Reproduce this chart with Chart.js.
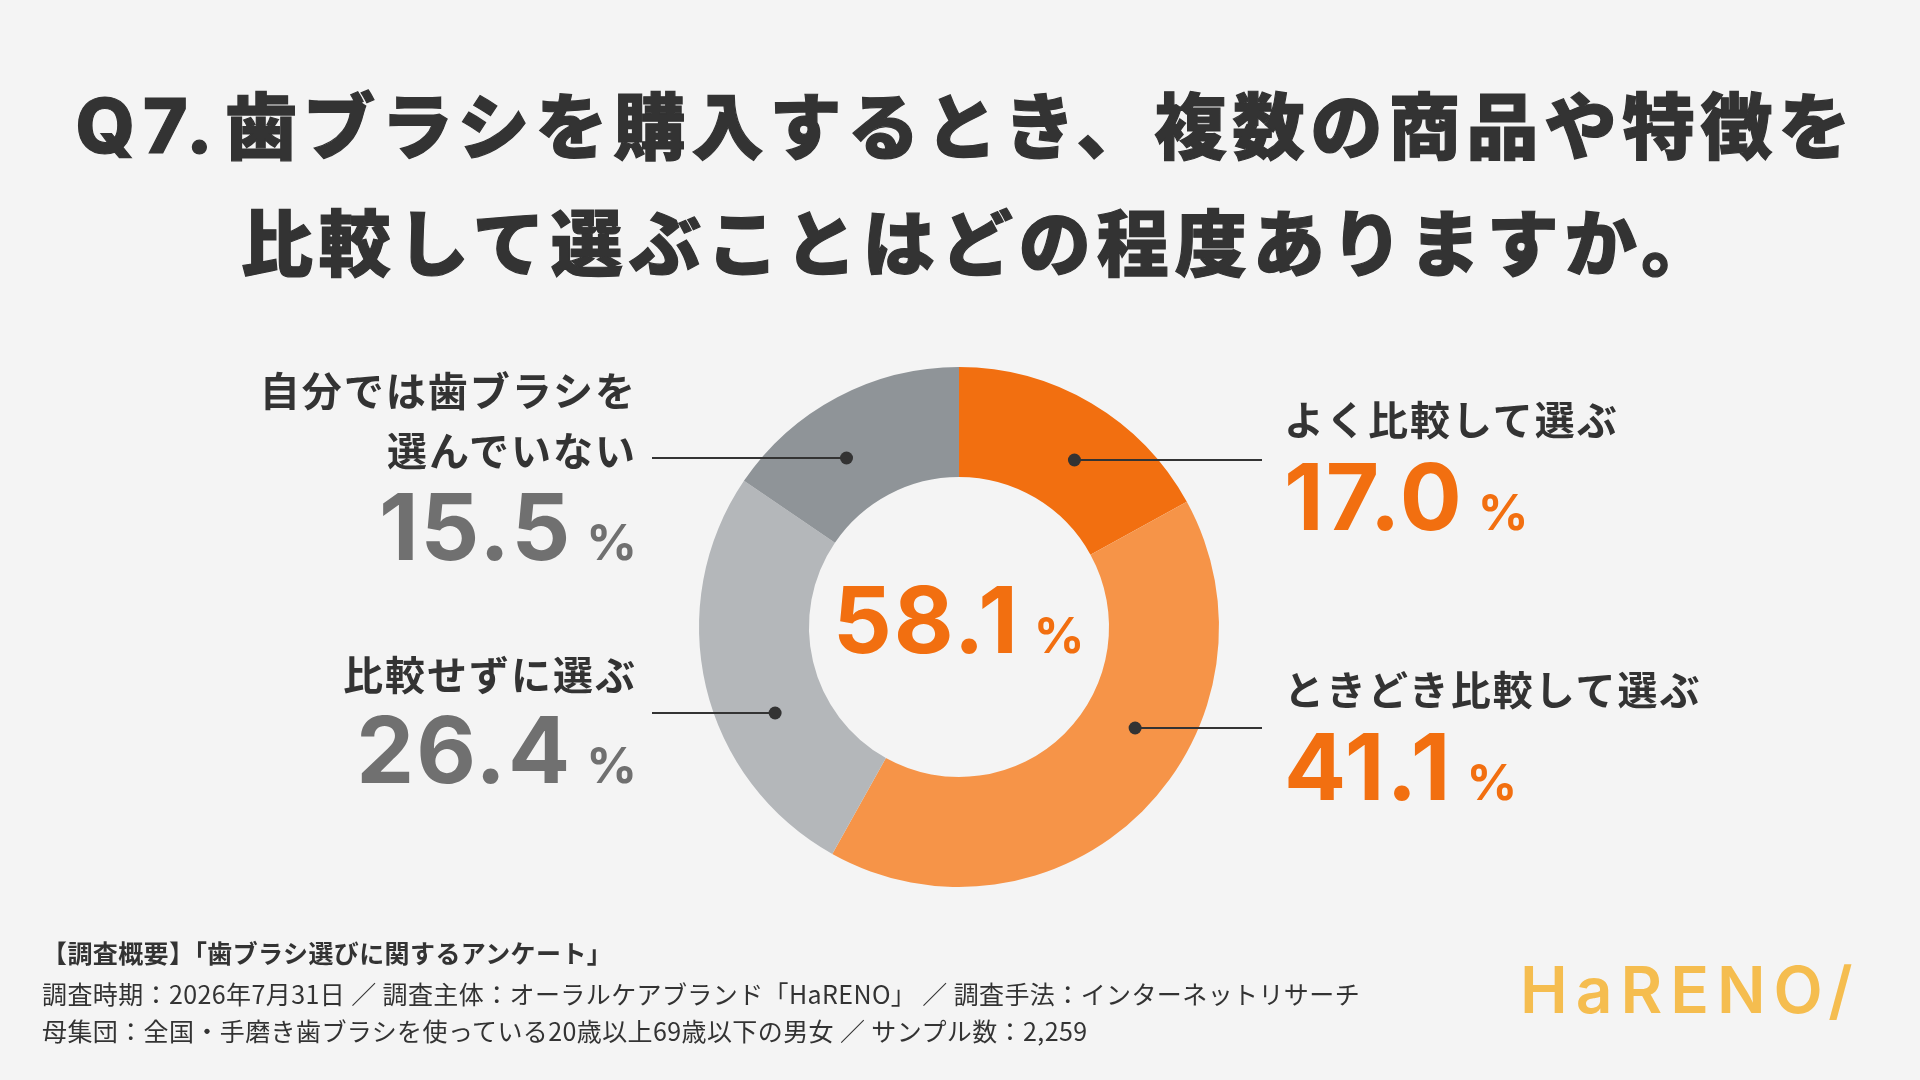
<!DOCTYPE html>
<html lang="ja">
<head>
<meta charset="utf-8">
<script src="https://cdn.jsdelivr.net/npm/chart.js@4.4.1/dist/chart.umd.min.js"></script>
<style>
  body { margin: 0; background: #f4f4f4; }
  #wrap { position: relative; width: 1920px; height: 1080px; overflow: hidden;
          font-family: "Noto Sans CJK JP", "Noto Sans", sans-serif; color: #333; }
  #c { position: absolute; left: 0; top: 0; }
  .abs { position: absolute; line-height: 1; white-space: nowrap; }
  .title { left: 0; width: 1920px; text-align: center; font-size: 72px; font-weight: 900; letter-spacing: 6px;
           -webkit-text-stroke: 1.2px #333; }
  .q { font-family: Inter, sans-serif; font-weight: 800; font-size: 76px; letter-spacing: 8px; margin-right: 4px; }
  .lab { font-size: 40px; font-weight: 700; letter-spacing: 2px; }
  .num { display: flex; align-items: baseline; font-family: Inter, sans-serif; font-weight: 700; }
  .num .v { font-size: 92px; letter-spacing: 2px; }
  .num .p { font-size: 50px; margin-left: 14px; }
  .foot { left: 42px; font-size: 25px; letter-spacing: 0.4px; }
  .logo { left: 1520px; font-family: Inter, sans-serif; font-weight: 600; font-size: 64px; letter-spacing: 8px; color: #f5bd4f; }
</style>
</head>
<body>
<div id="wrap">
  <canvas id="c" width="1920" height="1080"></canvas>
</div>
<script>
// data
const categories = ['よく比較して選ぶ', 'ときどき比較して選ぶ', '比較せずに選ぶ', '自分では歯ブラシを\n選んでいない'];
const values = [17.0, 41.1, 26.4, 15.5];
const sliceColors = ['#f26f10', '#f69448', '#b4b7ba', '#8f9498'];
const numberColors = ['#f26f10', '#f26f10', '#707070', '#707070'];
const compareIdx = [0, 1]; // "比較して選ぶ" total in the centre

const titleLines = ['<span class="q">Q7.</span>歯ブラシを購入するとき、複数の商品や特徴を', '比較して選ぶことはどの程度ありますか。'];
const footLines = [
  '【調査概要】「歯ブラシ選びに関するアンケート」',
  '調査時期：2026年7月31日 ／ 調査主体：オーラルケアブランド「HaRENO」 ／ 調査手法：インターネットリサーチ',
  '母集団：全国・手磨き歯ブラシを使っている20歳以上69歳以下の男女 ／ サンプル数：2,259'
];

// layout of the callouts (y of label line centres, number baseline, leader line)
const callouts = [
  { side: 'right', labelY: [418], numBase: 530, lineY: 460 },
  { side: 'right', labelY: [688], numBase: 800, lineY: 728 },
  { side: 'left', labelY: [673], numBase: 783, lineY: 713 },
  { side: 'left', labelY: [389, 449], numBase: 560, lineY: 458 }
];
const rightX = 1284, leftEdge = 637;
const lineRightEnd = 1262, lineLeftEnd = 652;

const wrap = document.getElementById('wrap');
function add(html, cls, style) {
  const d = document.createElement('div');
  d.className = 'abs ' + cls;
  d.innerHTML = html;
  Object.assign(d.style, style);
  wrap.appendChild(d);
  return d;
}

add(titleLines[0], 'title', { top: '86px', left: '6px' });
add(titleLines[1], 'title', { top: '203px', left: '20px' });

footLines.forEach((t, i) => {
  add(t, 'foot', { top: [940, 981, 1018][i] + 'px', fontWeight: i === 0 ? '700' : '400' });
});
add('HaRENO/', 'logo', { top: (1013 - 0.864 * 64) + 'px' });

categories.forEach((cat, i) => {
  const c = callouts[i];
  const pos = c.side === 'right' ? { left: rightX + 'px' } : { right: (1920 - leftEdge) + 'px', textAlign: 'right' };
  cat.split('\n').forEach((line, k) => {
    add(line, 'lab', Object.assign({ top: (c.labelY[k] - 20) + 'px' }, pos));
  });
  add('<span class="v">' + values[i].toFixed(1) + '</span><span class="p">%</span>', 'num',
      Object.assign({ top: (c.numBase - 0.864 * 92) + 'px', color: numberColors[i] }, pos));
});

const centerTotal = compareIdx.reduce((s, i) => s + values[i], 0);

const leaders = {
  id: 'leaders',
  afterDraw(chart) {
    const ctx = chart.ctx;
    const arcs = chart.getDatasetMeta(0).data;
    ctx.save();
    ctx.strokeStyle = '#333';
    ctx.fillStyle = '#333';
    ctx.lineWidth = 2;
    arcs.forEach((arc, i) => {
      const c = callouts[i];
      const rMid = (arc.innerRadius + arc.outerRadius) / 2 - 2;
      const dy = c.lineY - arc.y;
      const dx = Math.sqrt(Math.max(rMid * rMid - dy * dy, 0));
      const x = c.side === 'right' ? arc.x + dx : arc.x - dx;
      ctx.beginPath();
      ctx.moveTo(x, c.lineY);
      ctx.lineTo(c.side === 'right' ? lineRightEnd : lineLeftEnd, c.lineY);
      ctx.stroke();
      ctx.beginPath();
      ctx.arc(x, c.lineY, 6.5, 0, Math.PI * 2);
      ctx.fill();
    });
    ctx.restore();
  }
};

const chart = new Chart('c', {
  type: 'doughnut',
  data: {
    labels: categories,
    datasets: [{
      data: values,
      backgroundColor: sliceColors,
      borderWidth: 0
    }]
  },
  options: {
    responsive: false,
    animation: false,
    cutout: '57.7%',
    layout: { padding: { left: 699, right: 701, top: 367, bottom: 193 } },
    plugins: { legend: { display: false }, tooltip: { enabled: false } }
  },
  plugins: [leaders]
});

// centre value
const a0 = chart.getDatasetMeta(0).data[0];
const cen = add('<span class="v">' + centerTotal.toFixed(1) + '</span><span class="p">%</span>', 'num',
  { top: (653 - 0.864 * 92) + 'px', color: '#f26f10' });
cen.style.left = (a0.x - cen.offsetWidth / 2) + 'px';
</script>
</body>
</html>
